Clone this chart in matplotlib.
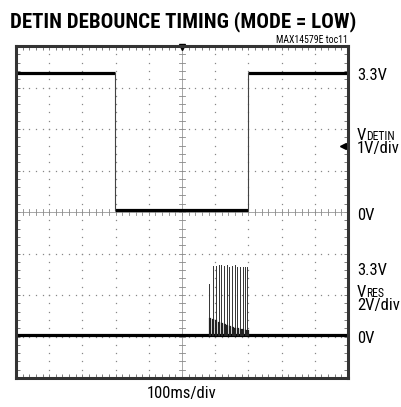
import matplotlib.pyplot as plt
import numpy as np

plt.rcParams['font.family'] = ['Roboto Condensed', 'DejaVu Sans']

# scope screen: 10 x 8 divisions
detin_edges = [0.0, 2.98, 6.98, 10.0]      # time (div) where DETIN level changes
detin_levels = [3.3, 0.0, 3.3]              # volts
detin_zero, detin_scale = 4.05, 1.0        # div offset, V/div

vres_zero, vres_scale = 1.03, 2.0
pulse_t = [5.82, 5.92, 6.01, 6.11, 6.18, 6.27, 6.35, 6.42, 6.51, 6.59, 6.67, 6.75, 6.83, 6.91, 6.97]
pulse_peak = [2.45, 3.35, 3.35, 3.4, 3.4, 3.35, 3.4, 3.3, 3.35, 3.4, 3.3, 3.3, 3.3, 3.3, 3.3]
pulse_ring = [0.8, 0.75, 0.7, 0.6, 0.55, 0.5, 0.45, 0.4, 0.35, 0.3, 0.3, 0.25, 0.25, 0.2, 0.2]

fig = plt.figure(figsize=(4.02, 4.07), dpi=100)
ax = fig.add_axes([16 / 402, 29 / 407, 332 / 402, 332 / 407])
ax.set_xlim(0, 10)
ax.set_ylim(0, 8)

# dotted graticule
fine_x = np.arange(0, 10.01, 0.2)
fine_y = np.arange(0, 8.01, 0.2)
for gx in range(1, 10):
    if gx == 5:
        continue
    ax.plot([gx] * len(fine_y), fine_y, ls='none', marker='s', ms=0.9, color='#888888', mew=0)
for gy in range(1, 8):
    if gy == 4:
        continue
    ax.plot(fine_x, [gy] * len(fine_x), ls='none', marker='s', ms=0.9, color='#888888', mew=0)

# centre crosshair with ticks
ax.axvline(5, color='#999999', lw=0.6)
ax.axhline(4, color='#999999', lw=0.6)
for ty in fine_y:
    ax.plot([4.92, 5.08], [ty, ty], color='#888888', lw=0.6)
for tx in fine_x:
    ax.plot([tx, tx], [3.93, 4.07], color='#888888', lw=0.6)

# DETIN trace
for i, lev in enumerate(detin_levels):
    yv = detin_zero + lev / detin_scale
    ax.plot([detin_edges[i], detin_edges[i + 1]], [yv, yv], color='black', lw=2.3, solid_capstyle='butt')
for i in range(1, len(detin_edges) - 1):
    ax.plot([detin_edges[i], detin_edges[i]],
            [detin_zero + detin_levels[i - 1] / detin_scale, detin_zero + detin_levels[i] / detin_scale],
            color='#444444', lw=0.8)

# VRES trace
ax.plot([0, 10], [vres_zero, vres_zero], color='black', lw=2.3, solid_capstyle='butt')
for t, pk, rg in zip(pulse_t, pulse_peak, pulse_ring):
    ax.plot([t, t], [vres_zero, vres_zero + pk / vres_scale], color='#333333', lw=0.7)
    ax.plot([t + 0.015, t + 0.015], [vres_zero, vres_zero + rg / vres_scale], color='#222222', lw=1.6)

# markers
ax.plot([5], [7.97], marker='v', color='black', ms=5, clip_on=False)
ax.plot([9.84], [5.6], marker='<', color='black', ms=5)

ax.set_xticks(fine_x)
ax.set_yticks(fine_y)
ax.tick_params(direction='in', length=3, width=0.6, color='#666666',
               top=True, right=True, labelbottom=False, labelleft=False)
for s in ax.spines.values():
    s.set_linewidth(2.2)
    s.set_color('#333333')

# labels
def px(x, y):
    return x / 402, 1 - y / 407

lab = dict(fontsize=12, va='baseline', ha='left')
sub = dict(fontsize=8.5, va='baseline', ha='left')
fig.text(*px(357, 80), '3.3V', **lab)
fig.text(*px(357, 140), 'V', **lab)
fig.text(*px(366.5, 140), 'DETIN', **sub)
fig.text(*px(357, 153), '1V/div', **lab)
fig.text(*px(357, 220), '0V', **lab)
fig.text(*px(357, 275), '3.3V', **lab)
fig.text(*px(357, 297), 'V', **lab)
fig.text(*px(366.5, 297), 'RES', **sub)
fig.text(*px(357, 310), '2V/div', **lab)
fig.text(*px(357, 343), '0V', **lab)
fig.text(*px(182, 398), '100ms/div', fontsize=12, va='baseline', ha='center')

fig.text(*px(10, 27), 'DETIN DEBOUNCE TIMING (MODE = LOW)', fontsize=15, fontweight='black',
         va='baseline', ha='left')
fig.text(*px(348, 43), 'MAX14579E toc11', fontsize=7, va='baseline', ha='right')

fig.savefig('out.png', dpi=100)
